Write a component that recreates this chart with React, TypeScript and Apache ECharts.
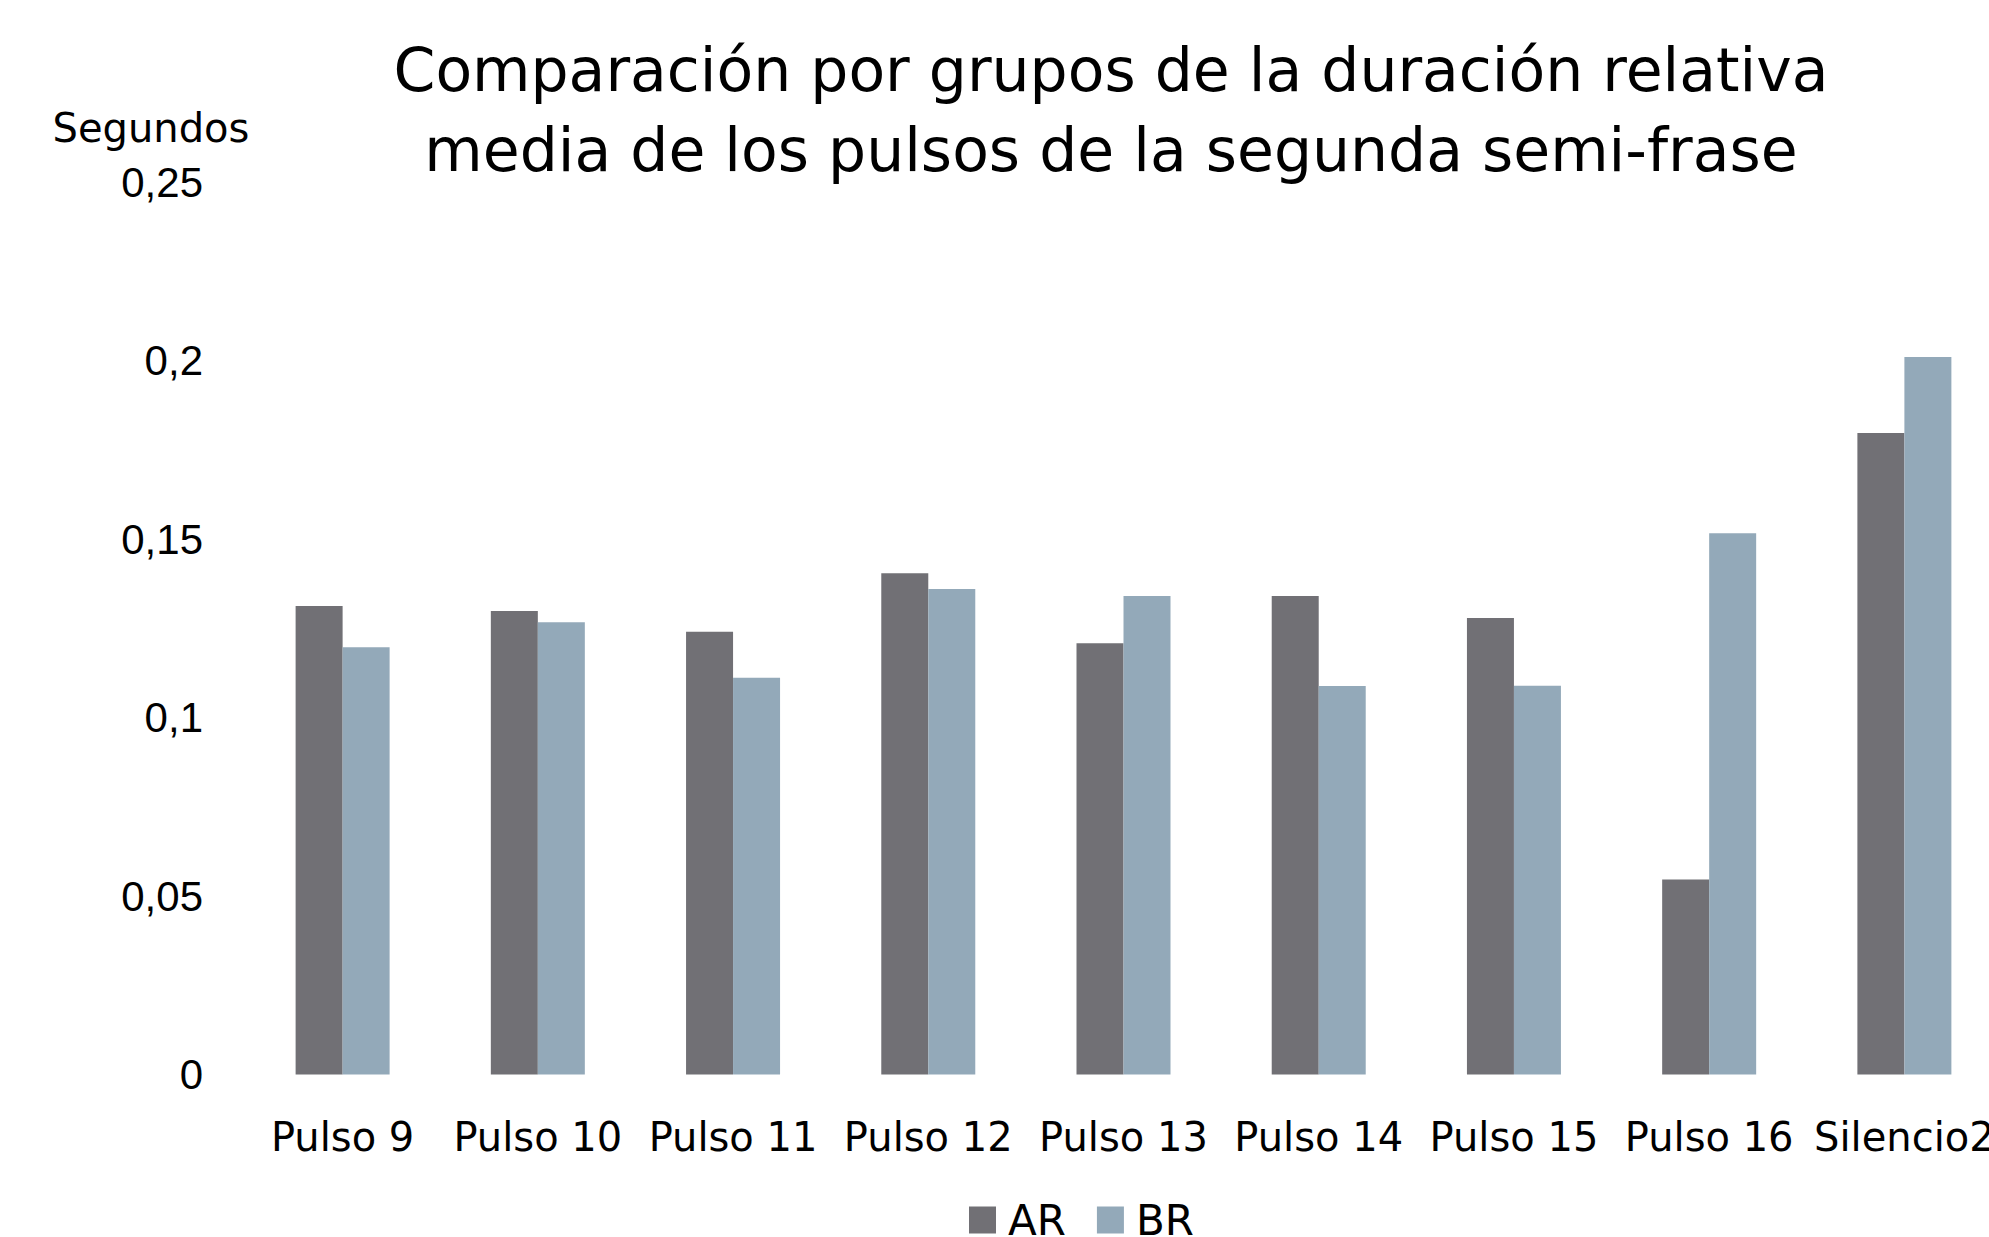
import React, { useEffect, useRef } from "react";
import * as echarts from "echarts";

const categories = ["Pulso 9", "Pulso 10", "Pulso 11", "Pulso 12", "Pulso 13", "Pulso 14", "Pulso 15", "Pulso 16", "Silencio2"];
const seriesNames = ["AR", "BR"];
const arValues = [0.1312, 0.1298, 0.124, 0.1404, 0.1208, 0.134, 0.1279, 0.0546, 0.1797];
const brValues = [0.1197, 0.1267, 0.1111, 0.136, 0.134, 0.1088, 0.1089, 0.1516, 0.201];
const titleText = "Comparación por grupos de la duración relativa\nmedia de los pulsos de la segunda semi-frase";
const yAxisTitle = "Segundos";

const FONT = "DejaVu Sans";

export default function App() {
  const ref = useRef<HTMLDivElement>(null);
  useEffect(() => {
    if (!ref.current) return;
    const chart = echarts.init(ref.current, null, { renderer: "svg" });
    chart.setOption({
      animation: false,
      backgroundColor: "#ffffff",
      title: {
        text: titleText,
        left: 1106,
        top: 25,
        textAlign: "center",
        textStyle: { fontFamily: FONT, fontSize: 60, fontWeight: "normal", color: "#000", lineHeight: 80 },
      },
      graphic: [
        {
          type: "text",
          x: 151,
          y: 128,
          style: { text: yAxisTitle, fontFamily: FONT, fontSize: 40, fill: "#000", textAlign: "center", textVerticalAlign: "middle" },
        },
      ],
      legend: {
        data: seriesNames,
        left: 964,
        top: 1194,
        icon: "rect",
        itemWidth: 27,
        itemHeight: 27,
        itemGap: 31,
        textStyle: { fontFamily: FONT, fontSize: 42, lineHeight: 42, color: "#000", padding: [0, 0, 0, 7] },
      },
      grid: { left: 245, right: 0, top: 182, bottom: 162.5, containLabel: false },
      xAxis: {
        type: "category",
        data: categories,
        axisLine: { show: false },
        axisTick: { show: false },
        axisLabel: { fontFamily: FONT, fontSize: 40, color: "#000", margin: 42, lineHeight: 40, interval: 0 },
      },
      yAxis: {
        type: "value",
        min: 0,
        max: 0.25,
        interval: 0.05,
        axisLine: { show: false },
        axisTick: { show: false },
        splitLine: { show: false },
        axisLabel: {
          fontFamily: "Liberation Sans",
          fontSize: 42,
          color: "#000",
          margin: 42,
          formatter: (v: number) => String(+v.toFixed(2)).replace(".", ","),
        },
      },
      series: [
        { name: seriesNames[0], type: "bar", data: arValues, barWidth: 47, barGap: "0%", itemStyle: { color: "#717075" } },
        { name: seriesNames[1], type: "bar", data: brValues, barWidth: 47, barGap: "0%", itemStyle: { color: "#93A9B9" } },
      ],
    });
    return () => chart.dispose();
  }, []);
  return (
    <div style={{ position: "absolute", left: 0, top: 0, width: 1989, height: 1237, overflow: "hidden" }}>
      <div ref={ref} style={{ width: 2002, height: 1237 }} />
    </div>
  );
}
